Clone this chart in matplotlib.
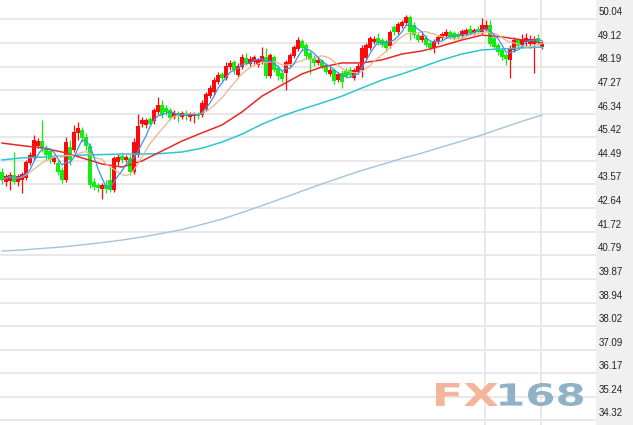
"""Daily candlestick chart with moving averages, styled like the FX168 quote widget."""
import matplotlib
matplotlib.use("Agg")
import matplotlib.pyplot as plt
import pandas as pd
from matplotlib.font_manager import FontProperties
from matplotlib.patches import PathPatch
from matplotlib.textpath import TextPath
from matplotlib.transforms import Affine2D, IdentityTransform

OUT_PNG = "out.png"

opens = [44.06, 43.66, 43.70, 43.94, 43.66, 43.74, 43.82, 44.41, 44.61, 45.07,
         45.27, 44.99, 44.88, 44.45, 44.41, 44.14, 43.74, 45.03, 44.92, 45.58,
         45.70, 45.43, 45.07, 43.66, 43.55, 43.39, 43.55, 43.74, 43.35, 44.45,
         44.68, 44.53, 44.61, 44.06, 44.72, 45.94, 45.90, 46.13, 46.05, 46.41,
         46.68, 46.56, 46.49, 46.21, 46.37, 46.21, 46.37, 46.21, 46.25, 46.33,
         46.29, 46.52, 47.03, 47.19, 47.58, 47.90, 47.74, 48.17, 48.37, 47.86,
         48.17, 48.52, 48.29, 48.37, 48.25, 48.37, 48.56, 47.82, 48.56, 48.13,
         47.94, 47.94, 48.29, 48.60, 48.87, 49.19, 49.03, 48.72, 48.52, 48.33,
         48.41, 48.25, 47.90, 48.05, 47.66, 47.94, 48.01, 48.05, 47.74, 47.98,
         48.05, 48.52, 48.91, 49.15, 49.30, 49.23, 49.19, 48.99, 49.74, 49.54,
         49.78, 49.89, 50.13, 49.82, 49.42, 49.23, 49.30, 49.11, 48.91, 49.15,
         49.30, 49.38, 49.54, 49.50, 49.46, 49.38, 49.46, 49.66, 49.50, 49.66,
         49.54, 49.62, 49.82, 49.30, 49.03, 48.84, 48.64, 48.45, 48.84, 49.23,
         49.03, 49.15, 49.07, 49.07, 49.30, 48.95]
highs = [44.22, 43.98, 44.06, 44.84, 43.98, 44.06, 44.53, 44.84, 45.51, 45.39,
         46.09, 45.11, 44.99, 44.72, 44.53, 44.25, 45.43, 45.31, 45.90, 46.01,
         45.82, 45.58, 45.19, 43.82, 43.62, 43.62, 43.74, 44.25, 44.68, 44.76,
         44.80, 44.72, 44.72, 45.39, 46.33, 46.21, 46.17, 46.21, 46.56, 46.99,
         46.88, 46.68, 46.56, 46.49, 46.45, 46.45, 46.49, 46.41, 46.41, 46.41,
         46.88, 47.19, 47.47, 47.78, 47.98, 47.98, 48.37, 48.45, 48.45, 48.33,
         48.68, 48.72, 48.60, 48.64, 48.52, 48.95, 48.91, 48.72, 48.64, 48.25,
         48.05, 48.45, 48.72, 49.03, 49.34, 49.27, 49.11, 48.79, 48.64, 48.56,
         48.48, 48.33, 48.17, 48.13, 47.98, 48.05, 48.13, 48.17, 48.13, 48.33,
         49.03, 49.11, 49.38, 49.38, 49.50, 49.30, 49.27, 49.62, 49.82, 49.93,
         50.01, 50.21, 50.21, 49.93, 49.50, 49.50, 49.42, 49.19, 49.27, 49.42,
         49.54, 49.66, 49.62, 49.58, 49.54, 49.66, 49.70, 49.82, 49.70, 49.78,
         50.09, 50.01, 50.01, 49.38, 49.11, 48.91, 48.72, 49.03, 49.34, 49.30,
         49.46, 49.50, 49.42, 49.38, 49.46, 49.19]
lows = [43.59, 43.51, 43.35, 43.59, 43.51, 43.24, 43.74, 44.33, 44.53, 44.99,
        44.84, 44.53, 44.41, 44.37, 43.94, 43.62, 43.66, 44.33, 44.84, 45.31,
        45.23, 44.92, 43.43, 43.35, 43.27, 43.00, 43.24, 43.27, 43.27, 44.33,
        44.41, 44.45, 43.94, 43.98, 44.64, 45.82, 45.78, 45.90, 45.94, 46.33,
        46.17, 46.29, 46.09, 46.13, 46.01, 46.13, 46.09, 46.05, 45.98, 46.13,
        46.21, 46.45, 46.95, 47.07, 47.51, 47.62, 47.66, 48.05, 47.90, 47.78,
        48.09, 48.25, 48.21, 48.29, 48.17, 48.29, 47.74, 47.74, 47.98, 47.66,
        47.58, 47.27, 48.21, 48.52, 48.79, 48.79, 48.48, 47.90, 48.21, 48.25,
        48.09, 47.90, 47.82, 47.51, 47.58, 47.35, 47.74, 47.78, 47.66, 47.90,
        47.78, 48.45, 48.83, 49.07, 49.03, 48.95, 48.84, 48.91, 49.42, 49.46,
        49.70, 49.82, 49.23, 49.30, 49.15, 49.15, 48.95, 48.84, 48.72, 49.07,
        49.23, 49.30, 49.27, 49.23, 49.27, 49.30, 49.38, 49.42, 49.42, 49.46,
        49.46, 49.58, 48.99, 48.87, 48.64, 48.45, 48.25, 47.74, 48.76, 48.91,
        48.95, 48.99, 48.91, 47.94, 49.03, 48.87]
closes = [43.74, 43.90, 43.94, 43.66, 43.90, 43.98, 44.45, 44.72, 45.31, 45.27,
          44.99, 44.72, 44.53, 44.61, 44.06, 43.74, 45.23, 44.53, 45.62, 45.78,
          45.39, 45.07, 43.55, 43.47, 43.43, 43.55, 43.39, 43.35, 44.61, 44.64,
          44.53, 44.64, 44.06, 45.23, 45.86, 46.09, 46.09, 45.94, 46.49, 46.68,
          46.29, 46.41, 46.17, 46.37, 46.25, 46.37, 46.25, 46.33, 46.33, 46.25,
          46.76, 47.11, 47.35, 47.66, 47.86, 47.74, 48.21, 48.33, 48.05, 48.21,
          48.56, 48.33, 48.48, 48.56, 48.45, 48.60, 47.82, 48.64, 48.05, 47.82,
          47.70, 48.37, 48.64, 48.95, 49.23, 48.91, 48.60, 48.45, 48.33, 48.45,
          48.17, 47.98, 48.05, 47.62, 47.90, 47.58, 47.82, 47.86, 48.05, 48.21,
          48.91, 49.03, 49.30, 49.27, 49.11, 49.03, 48.91, 49.54, 49.54, 49.86,
          49.93, 50.13, 49.54, 49.42, 49.23, 49.38, 49.03, 48.91, 49.19, 49.34,
          49.46, 49.54, 49.34, 49.30, 49.34, 49.58, 49.62, 49.50, 49.62, 49.54,
          49.82, 49.82, 49.07, 48.95, 48.76, 48.56, 48.48, 48.91, 49.23, 48.99,
          49.27, 49.30, 49.27, 49.27, 49.11, 49.07]

# longer averages, every fifth session
ma_days = [0, 5, 10, 15, 20, 25, 30, 35, 40, 45, 50, 55, 60, 65,
           70, 75, 80, 85, 90, 95, 100, 105, 110, 115, 120, 125, 130, 135]
ma20 = [45.19, 45.09, 45.00, 44.84, 44.61, 44.37, 44.25, 44.49, 44.88, 45.27,
        45.59, 45.90, 46.41, 47.03, 47.47, 47.90, 48.17, 48.33, 48.33, 48.45,
        48.68, 48.80, 49.00, 49.23, 49.42, 49.35, 49.23, 49.11]
ma60 = [44.53, 44.61, 44.64, 44.68, 44.72, 44.74, 44.76, 44.76, 44.78, 44.84,
        44.99, 45.23, 45.54, 45.93, 46.25, 46.52, 46.76, 47.03, 47.35, 47.66,
        47.90, 48.17, 48.45, 48.68, 48.84, 48.88, 48.92, 48.95]
ma120 = [40.96, 41.00, 41.06, 41.12, 41.20, 41.29, 41.39, 41.51, 41.65, 41.80,
         42.00, 42.21, 42.47, 42.74, 43.02, 43.31, 43.59, 43.86, 44.12, 44.35,
         44.59, 44.80, 45.04, 45.27, 45.51, 45.78, 46.04, 46.29]

price_labels = ["50.04", "49.12", "48.19", "47.27", "46.34", "45.42", "44.49",
                "43.57", "42.64", "41.72", "40.79", "39.87", "38.94", "38.02",
                "37.09", "36.17", "35.24", "34.32"]

UP, DOWN = "#ff0a0a", "#14ec14"
GRID = "#e6e6e6"


def draw_logo(fig):
    """Stretched FX168 watermark in the lower right corner."""
    fp = FontProperties(family="DejaVu Sans", weight="bold")
    h_px = fig.bbox.height
    for text, color, x0, x1 in (("FX", "#f5b59c", 436, 498), ("168", "#8fb2c7", 500, 583)):
        path = TextPath((0, 0), text, size=1, prop=fp)
        ext = path.get_extents()
        sx = (x1 - x0) / ext.width
        sy = 23 / ext.height
        tr = Affine2D().translate(-ext.x0, -ext.y0).scale(sx, sy).translate(x0, h_px - 406)
        fig.add_artist(PathPatch(path, facecolor=color, edgecolor="none",
                                 transform=tr + IdentityTransform(), zorder=10))


def main():
    df = pd.DataFrame({"open": opens, "high": highs, "low": lows, "close": closes})
    ma5 = df["close"].rolling(5, min_periods=1).mean()
    ma10 = df["close"].rolling(10, min_periods=1).mean()

    fig = plt.figure(figsize=(6.33, 4.25), dpi=100)
    fig.patch.set_facecolor("white")
    plot_w = 596 / 633
    ax = fig.add_axes([0, 0, plot_w, 1])
    ax.set_xlim(-0.5, 148.5)
    ylim = (34.143, 50.796)
    ax.set_ylim(*ylim)
    for s in ax.spines.values():
        s.set_visible(False)
    ax.set_xticks([])
    ax.set_yticks([])

    levels = [float(v) for v in price_labels]
    for v in levels:
        ax.axhline(v, color=GRID, lw=1.3, zorder=0)
    for d in (120.75, 134.75):
        ax.axvline(d, color=GRID, lw=1.3, zorder=0)

    colors = [UP if c >= o else DOWN for o, c in zip(df["open"], df["close"])]
    ax.vlines(df.index, df["low"], df["high"], colors=colors, lw=0.9, zorder=2)
    bottoms = df[["open", "close"]].min(axis=1)
    heights = (df["close"] - df["open"]).abs().clip(lower=0.05)
    ax.bar(df.index, heights, bottom=bottoms, width=0.86, color=colors,
           linewidth=0, zorder=3)

    ax.plot(ma_days, ma120, color="#a3c4da", lw=1.0, zorder=4)
    ax.plot(ma_days, ma60, color="#2cc6d0", lw=1.1, zorder=4)
    ax.plot(ma_days, ma20, color="#e82828", lw=1.1, zorder=5)
    ax.plot(df.index, ma10, color="#ebb48e", lw=0.9, zorder=5)
    ax.plot(df.index, ma5, color="#3a94ee", lw=0.9, zorder=6)

    # price scale on the right
    lab = fig.add_axes([plot_w, 0, 1 - plot_w, 1])
    lab.set_facecolor("#f0f0f0")
    lab.set_ylim(*ylim)
    lab.set_xlim(0, 1)
    for s in lab.spines.values():
        s.set_visible(False)
    lab.set_xticks([])
    lab.set_yticks([])
    for v, t in zip(levels, price_labels):
        lab.text(0.06, v + 0.08, t, fontsize=7, family="Liberation Sans",
                 color="#222222", va="bottom", ha="left")

    draw_logo(fig)
    fig.savefig(OUT_PNG, dpi=100, facecolor=fig.get_facecolor())


if __name__ == "__main__":
    main()
